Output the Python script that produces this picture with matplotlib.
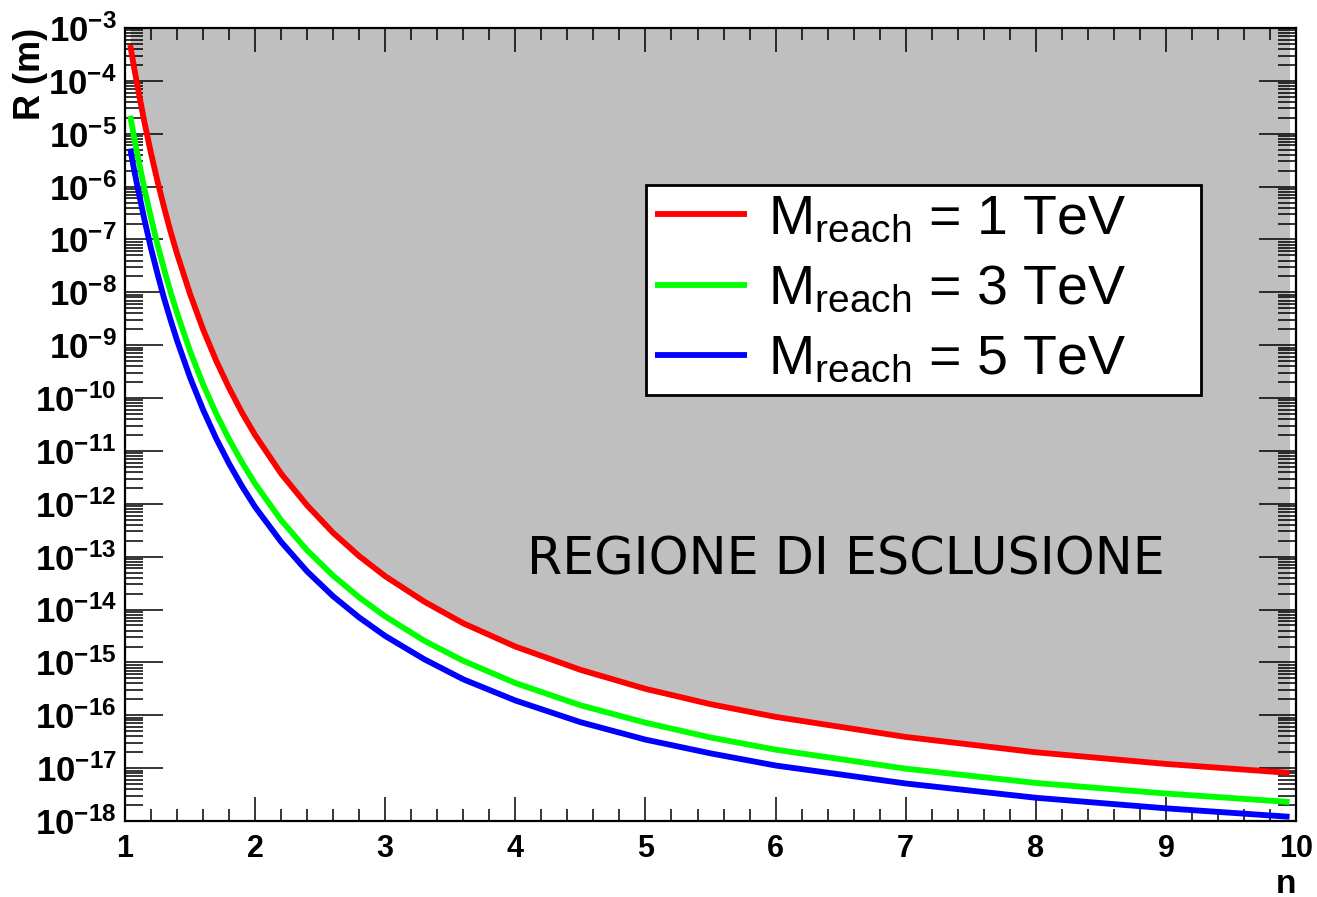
import numpy as np
import matplotlib
matplotlib.use('Agg')
import matplotlib.pyplot as plt
from matplotlib.ticker import LogLocator, FixedLocator, FuncFormatter, NullFormatter

plt.rcParams['mathtext.fontset'] = 'custom'
plt.rcParams['mathtext.rm'] = 'Liberation Sans'
plt.rcParams['mathtext.it'] = 'Liberation Sans:italic'
plt.rcParams['mathtext.bf'] = 'Liberation Sans:bold'
plt.rcParams['font.family'] = ['Liberation Sans', 'DejaVu Sans']

# number of extra dimensions
n = [1.04, 1.07, 1.1, 1.15, 1.2, 1.25, 1.3, 1.35, 1.4, 1.5, 1.6, 1.7, 1.8,
     1.9, 2.0, 2.2, 2.4, 2.6, 2.8, 3.0, 3.3, 3.6, 4.0, 4.5, 5.0, 5.5, 6.0,
     7.0, 8.0, 9.0, 9.95]

# log10 of R (m)
log_r_1tev = [-3.32, -3.75, -4.15, -4.79, -5.37, -5.90, -6.39, -6.85, -7.27,
              -8.03, -8.70, -9.29, -9.81, -10.28, -10.70, -11.43, -12.03,
              -12.55, -12.99, -13.37, -13.85, -14.26, -14.70, -15.14, -15.50,
              -15.79, -16.03, -16.41, -16.70, -16.92, -17.09]
log_r_3tev = [-4.66, -5.07, -5.45, -6.05, -6.59, -7.10, -7.56, -7.99, -8.39,
              -9.11, -9.74, -10.29, -10.78, -11.22, -11.62, -12.31, -12.88,
              -13.36, -13.77, -14.13, -14.59, -14.97, -15.39, -15.81, -16.14,
              -16.42, -16.65, -17.01, -17.28, -17.48, -17.64]
log_r_5tev = [-5.28, -5.68, -6.05, -6.63, -7.17, -7.65, -8.11, -8.52, -8.91,
              -9.61, -10.22, -10.76, -11.24, -11.67, -12.06, -12.72, -13.28,
              -13.75, -14.15, -14.50, -14.94, -15.32, -15.72, -16.13, -16.46,
              -16.72, -16.95, -17.29, -17.56, -17.76, -17.92]

labels = [r'M$_{\mathrm{reach}}$ = 1 TeV',
          r'M$_{\mathrm{reach}}$ = 3 TeV',
          r'M$_{\mathrm{reach}}$ = 5 TeV']
colors = ['#ff0000', '#00ff00', '#0000ff']

fig = plt.figure(figsize=(13.17, 8.97), dpi=100)
ax = fig.add_axes([0.0949, 0.0847, 0.8892, 0.8841])

r1 = 10.0 ** np.array(log_r_1tev)
ax.fill_between(n, r1, 1e-3, color='#bfbfbf', lw=0, zorder=1)

for logs, c, lab in zip([log_r_1tev, log_r_3tev, log_r_5tev], colors, labels):
    ax.plot(n, 10.0 ** np.array(logs), color=c, lw=4.2, label=lab, zorder=3,
            solid_capstyle='butt')

ax.set_yscale('log')
ax.set_xlim(1, 10)
ax.set_ylim(1e-18, 1e-3)

ax.xaxis.set_major_locator(FixedLocator(range(1, 11)))
ax.xaxis.set_minor_locator(FixedLocator(np.arange(1, 10.01, 0.2)))
ax.yaxis.set_major_locator(LogLocator(base=10, numticks=30))
ax.yaxis.set_minor_locator(LogLocator(base=10, subs=np.arange(2, 10), numticks=30))
ax.yaxis.set_minor_formatter(NullFormatter())
ax.yaxis.set_major_formatter(FuncFormatter(
    lambda v, p: r'$\mathbf{10^{%d}}$' % int(round(np.log10(v)))))

ax.tick_params(axis='both', which='both', direction='in', top=True, right=True,
               width=1.1, colors='black')
ax.tick_params(axis='y', which='major', length=27, labelsize=25, pad=6)
ax.tick_params(axis='y', which='minor', length=13)
ax.tick_params(axis='x', which='major', length=17, labelsize=22, pad=9)
ax.tick_params(axis='x', which='minor', length=8.5)
for lab in ax.get_xticklabels():
    lab.set_fontweight('bold')
for s in ax.spines.values():
    s.set_linewidth(1.6)

ax.set_ylabel('R (m)', fontsize=26, fontweight='bold', loc='top')
ax.yaxis.set_label_coords(-0.066, 1.0)
ax.set_xlabel('n', fontsize=24, fontweight='bold', loc='right')
ax.xaxis.set_label_coords(1.0, -0.06)

ax.text(0.616, 0.328, 'REGIONE DI ESCLUSIONE', transform=ax.transAxes,
        ha='center', va='center', fontsize=36.5, family='DejaVu Sans', zorder=4)

leg = ax.legend(loc='upper left', bbox_to_anchor=(0.445, 0.540, 0.474, 0.262),
                mode='expand', fontsize=40,
                frameon=True, fancybox=False, framealpha=1, edgecolor='black',
                handlelength=1.65, handletextpad=0.38, labelspacing=0.33,
                borderpad=0.16, borderaxespad=0)
leg.get_frame().set_linewidth(2)
leg.set_zorder(5)

fig.savefig('out.png', dpi=100)
